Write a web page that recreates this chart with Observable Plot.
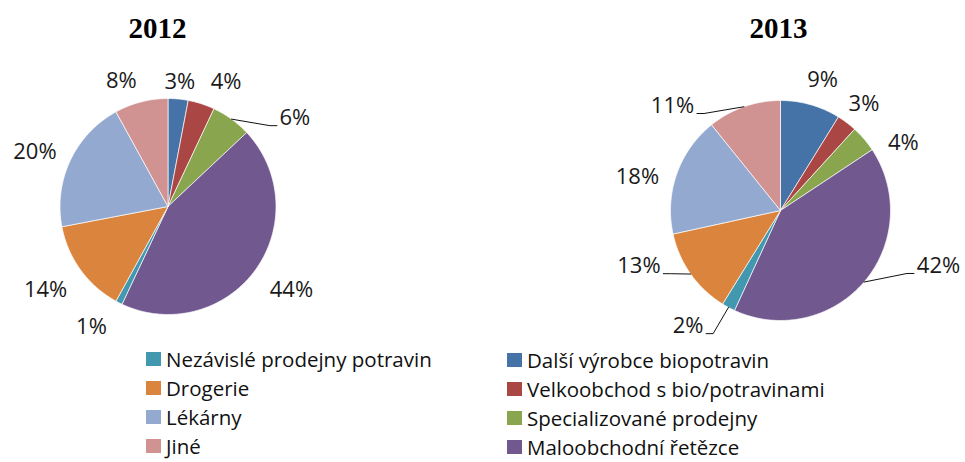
<!DOCTYPE html>
<html><head><meta charset="utf-8">
<script src="https://cdn.jsdelivr.net/npm/d3@7"></script>
<script src="https://cdn.jsdelivr.net/npm/@observablehq/plot@0.6"></script>
<style>
body{margin:0;background:#fff;}
#wrap{position:relative;width:965px;height:462px;overflow:hidden;font-family:"Open Sans",sans-serif;background:#fff;}
#chart{position:absolute;left:0;top:0;}
#legend{position:absolute;left:0;top:340px;width:965px;height:122px;}
.col{position:absolute;}
.item{height:29px;display:flex;align-items:center;font-size:20.5px;color:#111;white-space:nowrap;}
.sw{width:15px;height:14px;margin-right:5px;flex:none;}
</style></head><body><div id="wrap"><div id="chart"></div><div id="legend"></div></div>
<script>
// ---- data ----
const categories = ["Další výrobce biopotravin","Velkoobchod s bio/potravinami","Specializované prodejny","Maloobchodní řetězce","Nezávislé prodejny potravin","Drogerie","Lékárny","Jiné"];
const values2012 = [3,4,6,44,1,14,20,8];
const values2013 = [9,3,4,42,2,13,18,11];
const years = ["2012","2013"];
const colors = ["#4572A7","#AA4643","#89A54E","#71588F","#4198AF","#DB843D","#93A9CF","#D19392"];
const legendLeft = ["Nezávislé prodejny potravin","Drogerie","Lékárny","Jiné"];
const legendRight = ["Další výrobce biopotravin","Velkoobchod s bio/potravinami","Specializované prodejny","Maloobchodní řetězce"];

// ---- layout ----
const W = 965, H = 340;
const pieLayout = {"2012": {cx:167.5, cy:206, r:108, titleX:157}, "2013": {cx:780, cy:210, r:110, titleX:778}};
const titleY = 28;
// label nudges [angle shift in degrees, radial shift in px], mimicking the original's label placement
const labelNudge = {"2012": [[0,-7],[7,2],[19,16],[-2,3],[5.5,5],[1.6,2.5],[-3,-3],[-6,-1]],
                    "2013": [[2,0],[1,-5.6],[11.6,-2],[-21.4,20],[10.5,8],[14,4],[-6.4,-2],[-26.4,10.6]]};
const leaders = {"2012":[2], "2013":[3,4,5,7]};
const valuesByYear = {"2012": values2012, "2013": values2013};

const pie = d3.pie().sort(null).value(d => d);
const slicePts = [], labelPts = [], leaderPts = [];
years.forEach(yr => {
  const vals = valuesByYear[yr];
  const L = pieLayout[yr];
  pie(vals).forEach((a, i) => {
    const key = yr + "|" + i, cat = categories[i];
    slicePts.push({key, cat, x: L.cx, y: L.cy});
    const n = Math.max(2, Math.ceil((a.endAngle - a.startAngle) / (Math.PI / 180)));
    for (let k = 0; k <= n; k++) {
      const t = a.startAngle + (a.endAngle - a.startAngle) * k / n;
      slicePts.push({key, cat, x: L.cx + L.r * Math.sin(t), y: L.cy - L.r * Math.cos(t)});
    }
    slicePts.push({key, cat, x: L.cx, y: L.cy});
    const mid = (a.startAngle + a.endAngle) / 2;
    const s = Math.sin(mid), c = Math.cos(mid);
    const w = 13 * String(vals[i]).length + 19;
    const [dA, dD] = labelNudge[yr][i];
    const dist = L.r + 15 + Math.abs(s) * w / 2 + Math.abs(c) * 8 + dD;
    const ang = mid + dA * Math.PI / 180;
    const lx = L.cx + dist * Math.sin(ang), ly = L.cy - dist * Math.cos(ang);
    labelPts.push({x: lx, y: ly, text: vals[i] + "%"});
    if (leaders[yr].includes(i)) {
      const ex = L.cx + L.r * s, ey = L.cy - L.r * c;
      const side = lx < L.cx ? 1 : -1;
      const ax = lx + side * (w / 2 + 2), ay = ly + 8;
      leaderPts.push({key, x: ex, y: ey}, {key, x: ax + side * 7, y: ay}, {key, x: ax, y: ay});
    }
  });
});

const chart = Plot.plot({
  width: W, height: H, margin: 0,
  x: {domain: [0, W], range: [0, W], axis: null},
  y: {domain: [0, H], range: [0, H], axis: null},
  color: {domain: categories, range: colors},
  style: {fontFamily: "Open Sans", background: "white"},
  marks: [
    Plot.line(slicePts, {x: "x", y: "y", z: "key", fill: "cat", stroke: "white", strokeWidth: 0.8, strokeOpacity: 0.85, strokeLinejoin: "miter"}),
    Plot.line(leaderPts, {x: "x", y: "y", z: "key", stroke: "#111", strokeWidth: 1, fill: "none"}),
    Plot.text(labelPts, {x: "x", y: "y", text: "text", fontSize: 22, fill: "#1a1a1a"}),
    Plot.text(years, {x: d => pieLayout[d].titleX, y: () => titleY, text: d => d, fontSize: 29, fontWeight: "bold", fontFamily: "Liberation Serif", fill: "#000"})
  ]
});
document.getElementById("chart").appendChild(chart);

// ---- legend ----
const legend = document.getElementById("legend");
function addCol(items, left, top) {
  const col = document.createElement("div");
  col.className = "col";
  col.style.left = left + "px";
  col.style.top = top + "px";
  items.forEach(name => {
    const it = document.createElement("div");
    it.className = "item";
    const sw = document.createElement("span");
    sw.className = "sw";
    sw.style.background = colors[categories.indexOf(name)];
    const tx = document.createElement("span");
    tx.textContent = name;
    it.appendChild(sw); it.appendChild(tx);
    col.appendChild(it);
  });
  legend.appendChild(col);
}
addCol(legendLeft, 146, 4.5);
addCol(legendRight, 507, 5.5);
</script></body></html>
